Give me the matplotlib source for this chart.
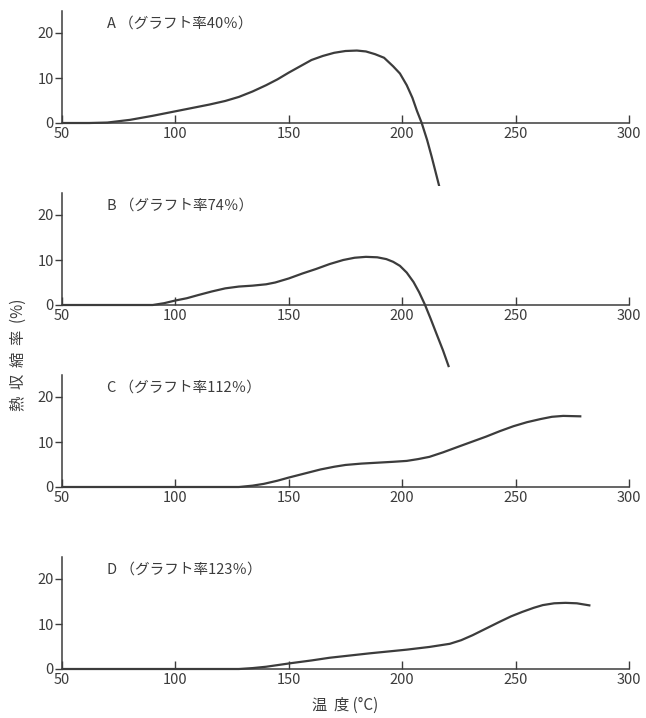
import numpy as np
import matplotlib as mpl
import matplotlib.pyplot as plt

mpl.rcParams['font.family'] = ['Noto Sans CJK JP', 'DejaVu Sans']
mpl.rcParams['font.size'] = 10.5

ink = '#3c3c3c'

# temperature (C) / heat shrinkage (%)
a_t = [50, 62, 70, 80, 90, 100, 108, 115, 122, 128, 134, 140, 145, 150, 155, 160, 165, 170, 175,
       180, 184, 188, 192, 196, 199, 202, 204.5, 206.5, 208.6, 211, 213, 216.4]
a_s = [0, 0, 0.1, 0.7, 1.6, 2.6, 3.4, 4.1, 4.9, 5.8, 7.0, 8.4, 9.7, 11.2, 12.6, 14.0, 14.9, 15.6, 16.0,
       16.1, 15.9, 15.3, 14.5, 12.6, 11.0, 8.4, 5.6, 2.7, 0, -3.8, -7.5, -14.2]

b_t = [50, 90, 95, 100, 105, 110, 116, 122, 128, 134, 140, 144, 150, 156, 162, 168, 174, 179, 184,
       189, 193, 196, 199, 202, 205, 207.5, 210, 212.5, 215.2, 218, 220.6]
b_s = [0, 0, 0.4, 1.0, 1.5, 2.2, 3.0, 3.7, 4.1, 4.3, 4.6, 5.0, 5.9, 7.0, 8.0, 9.1, 10.0, 10.5, 10.7,
       10.6, 10.2, 9.6, 8.7, 7.2, 5.1, 2.8, 0.1, -3.0, -6.5, -10.1, -13.8]

c_t = [50, 128, 134, 139, 145, 150, 157, 164, 170, 175, 182, 189, 196, 202, 207, 212, 218, 225, 231,
       237, 243, 249, 255, 261, 266, 271, 279]
c_s = [0, 0, 0.3, 0.7, 1.4, 2.1, 3.0, 3.9, 4.5, 4.9, 5.2, 5.4, 5.6, 5.8, 6.2, 6.7, 7.7, 9.0, 10.1,
       11.2, 12.4, 13.5, 14.4, 15.1, 15.6, 15.8, 15.7]

d_t = [50, 128, 134, 140, 151, 160, 168, 177, 186, 194, 202, 212, 221, 226, 231, 237, 243, 248, 253,
       258, 262, 267, 272, 277, 283]
d_s = [0, 0, 0.2, 0.5, 1.3, 1.9, 2.5, 3.0, 3.5, 3.9, 4.3, 4.9, 5.6, 6.4, 7.5, 9.0, 10.5, 11.7, 12.7,
       13.6, 14.2, 14.6, 14.7, 14.6, 14.1]

labels = ['A （グラフト率40％）', 'B （グラフト率74％）', 'C （グラフト率112％）', 'D （グラフト率123％）']
series = [(a_t, a_s), (b_t, b_s), (c_t, c_s), (d_t, d_s)]
ylow = [-14, -14, -3, -3]

xticks = [50, 100, 150, 200, 250, 300]
yticks = [0, 10, 20]

fig = plt.figure(figsize=(6.46, 7.18), dpi=100)
W, H = 646, 718
zero_px = [123, 305, 487, 669]   # pixel row of the y=0 line
ppu = 4.5                         # pixels per % unit
left, right = 62, 629

for i in range(4):
    lo = ylow[i]
    top_px = zero_px[i] - 25 * ppu
    bot_px = zero_px[i] - lo * ppu
    ax = fig.add_axes([left / W, 1 - bot_px / H, (right - left) / W, (bot_px - top_px) / H])
    t, s = series[i]
    ax.plot(t, s, color=ink, lw=1.6, solid_capstyle='butt', solid_joinstyle='round', zorder=3)
    ax.set_xlim(50, 300)
    ax.set_ylim(lo, 25)
    ax.spines['top'].set_visible(False)
    ax.spines['right'].set_visible(False)
    ax.spines['bottom'].set_position(('data', 0))
    ax.spines['left'].set_bounds(0, 25)
    for sp in ('bottom', 'left'):
        ax.spines[sp].set_color(ink)
        ax.spines[sp].set_linewidth(1.1)
    ax.patch.set_visible(False)
    ax.set_xticks(xticks)
    ax.set_yticks(yticks)
    ax.tick_params(axis='x', direction='in', length=6, width=1, colors=ink, pad=3, labelsize=10.5)
    ax.tick_params(axis='y', direction='out', length=5, width=1, colors=ink, pad=1, labelsize=10.5)
    ax.text(70, 22, labels[i], color=ink, fontsize=10.5, va='center', ha='left')

fig.text(345 / W, 1 - 705 / H, '温  度 (°C)', color=ink, fontsize=11, ha='center', va='center')
fig.text(18 / W, 1 - 355 / H, '熱  収  縮  率  (%)', color=ink, fontsize=11, ha='center', va='center',
         rotation=90)

fig.savefig('out.png', dpi=100)
